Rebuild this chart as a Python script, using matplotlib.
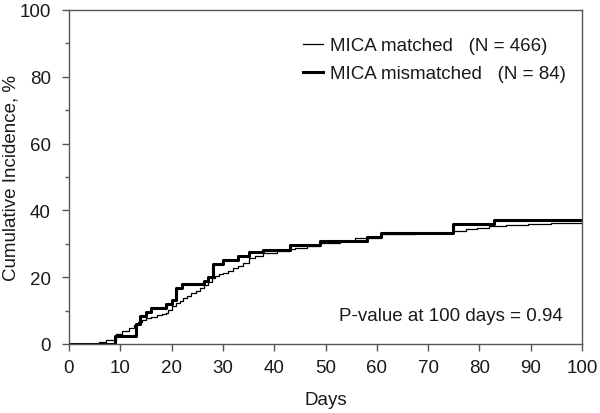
import numpy as np
import matplotlib.pyplot as plt
from matplotlib.ticker import MultipleLocator

plt.rcParams['font.family'] = ['Liberation Sans', 'DejaVu Sans']

# MICA matched (N = 466), thin line - step points (day, cumulative %)
matched_days = [0, 5.9, 7.3, 9.2, 10.3, 11.6, 12.6, 13.5, 14.3, 15.0, 16.0, 17.1, 18.1,
                19.0, 19.3, 20.0, 20.9, 21.6, 22.2, 23.0, 23.8, 24.7, 25.5, 26.3, 27.1,
                27.8, 28.5, 29.2, 30.1, 31.0, 32.0, 33.0, 33.9, 35.0, 36.3, 37.9, 40.5,
                43.1, 44.1, 46.4, 49.0, 52.8, 55.8, 60.9, 67.7, 74.9, 77.4, 79.5, 81.8,
                85.1, 89.4, 94.0, 100]
matched_vals = [0, 0.7, 1.3, 3.0, 4.0, 4.8, 5.8, 6.6, 7.3, 7.7, 8.1, 8.6, 9.0,
                9.4, 10.3, 11.3, 12.3, 13.0, 13.7, 14.5, 15.3, 16.0, 16.9, 17.7, 18.5,
                19.7, 20.5, 21.0, 21.4, 21.9, 22.6, 23.3, 24.2, 25.6, 26.4, 27.2, 27.9,
                28.3, 28.8, 29.3, 30.2, 30.9, 31.6, 32.9, 33.2, 33.9, 34.3, 34.7, 35.3,
                35.6, 35.9, 36.3, 36.3]

# MICA mismatched (N = 84), thick line
mismatched_days = [0, 9.0, 13.05, 13.9, 15.0, 16.0, 19.0, 20.0, 20.9, 22.0, 26.3, 27.1,
                   28.0, 30.0, 33.0, 35.0, 37.9, 43.1, 49.0, 58.1, 60.9, 74.9, 82.9, 100]
mismatched_vals = [0, 2.4, 6.0, 8.3, 9.5, 10.7, 11.9, 13.1, 16.7, 17.9, 19.0, 20.2,
                   23.8, 25.0, 26.2, 27.4, 28.2, 29.6, 30.9, 32.1, 33.2, 35.9, 37.2, 37.2]

labels = ['MICA matched   (N = 466)', 'MICA mismatched   (N = 84)']

fig = plt.figure(figsize=(6.0, 4.14), dpi=100)
ax = fig.add_axes([0.115, 0.1667, 0.855, 0.8068])

ax.step(matched_days, matched_vals, where='post', color='black', lw=0.9, label=labels[0])
ax.step(mismatched_days, mismatched_vals, where='post', color='black', lw=2.2,
        label=labels[1])

ax.set_xlim(0, 100)
ax.set_ylim(0, 100)
ax.xaxis.set_major_locator(MultipleLocator(10))
ax.yaxis.set_major_locator(MultipleLocator(20))
ax.yaxis.set_minor_locator(MultipleLocator(10))

spine_col = '#555555'
txt_col = '#1a1a1a'
fs = 13.5
for s in ax.spines.values():
    s.set_color(spine_col)
    s.set_linewidth(1.0)
ax.tick_params(which='major', direction='out', length=5, width=1, color=spine_col,
               labelsize=fs, labelcolor=txt_col)
ax.tick_params(which='minor', direction='out', length=3, width=1, color=spine_col)
ax.tick_params(axis='x', pad=6)
ax.tick_params(axis='y', pad=8)

ax.set_xlabel('Days', fontsize=fs, color=txt_col, va='center')
ax.set_ylabel('Cumulative Incidence, %', fontsize=fs, color=txt_col, va='center')
ax.xaxis.set_label_coords(0.5, -0.165)
ax.yaxis.set_label_coords(-0.113, 0.5)

leg = ax.legend(loc='upper left', frameon=False, fontsize=fs, handlelength=1.05,
                handletextpad=0.4, labelspacing=0.56, borderpad=0, borderaxespad=0,
                bbox_to_anchor=(0.456, 0.918))
for t in leg.get_texts():
    t.set_color(txt_col)

ax.text(0.963, 0.084, 'P-value at 100 days = 0.94', transform=ax.transAxes,
        ha='right', va='center', fontsize=fs, color=txt_col)

fig.savefig('out.png', dpi=100)
